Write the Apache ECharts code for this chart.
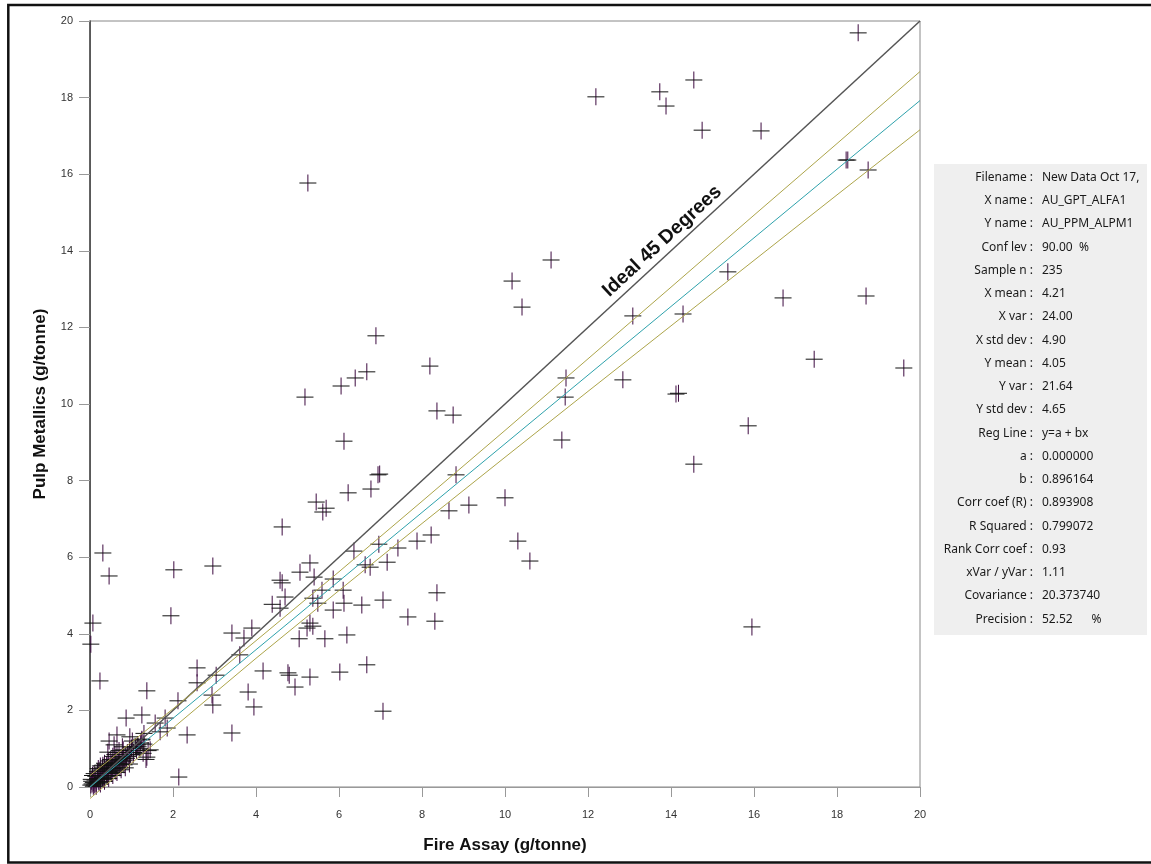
<!DOCTYPE html>
<html><head><meta charset="utf-8">
<script src="https://cdn.jsdelivr.net/npm/echarts/dist/echarts.min.js"></script>
<style>html,body{margin:0;padding:0;background:#fff}#c{width:1151px;height:864px}</style>
</head><body><div id="c"></div><script>
// ---- data ----
var fireAssay = [
 18.51,12.19,13.73,13.88,14.55,14.75,16.17,18.22,18.26,18.75,5.25,11.11,10.17,10.41,15.37,13.08,14.29,16.70,18.70,6.89,17.45,19.61,8.19,
 6.67,6.39,6.05,5.18,8.36,8.75,6.12,6.94,6.98,6.77,6.22,8.82,10.0,11.37,11.45,11.47,12.84,14.12,14.18,15.86,14.55,15.95,
 5.45,5.69,5.61,4.63,8.65,9.13,10.31,10.60,6.36,6.96,7.42,7.88,8.22,6.63,6.75,7.16,5.30,5.06,5.40,5.86,4.58,5.59,6.10,5.37,4.70,4.58,5.49,5.86,6.12,6.55,7.06,8.36,7.66,8.31,5.30,5.37,5.23,5.04,5.66,6.19,4.80,5.30,6.02,6.67,4.94,7.06,
 0.31,0.46,2.02,1.95,0.07,0.02,2.96,0.24,4.63,4.39,3.90,3.71,3.42,3.61,4.17,3.81,3.95,3.42,1.37,2.12,2.58,2.58,3.04,2.94,2.96,4.77,2.34,2.14,0.87,1.25,1.81,1.86,1.57,1.69,0.46,0.65,0.96,1.25,1.37,1.45,1.16,0.43,0.80,1.04,0.55,0.24,0.31,
 0.05,0.08,0.10,0.12,0.15,0.18,0.20,0.22,0.25,0.28,0.30,0.32,0.35,0.38,0.40,0.42,0.45,0.48,0.50,0.52,0.55,0.58,0.60,0.62,0.65,0.68,0.70,0.72,0.75,0.78,0.80,0.82,0.85,0.88,0.90,0.92,0.95,0.98,1.00,1.05,1.10,1.12,1.15,1.20,1.22,1.28,1.30,1.35,1.40,
 0.03,0.06,0.10,0.14,0.18,0.20,0.25,0.30,0.35,0.40,0.45,0.50,0.55,0.60,0.65,0.70,0.15,0.25,0.35,0.45,0.55,0.65,0.75,0.85,0.95,0.08,0.02,0.04,0.12,0.22,0.32,0.42,0.52,0.62,0.72,0.82,1.25,1.30,1.02,0.78,0.58
];
var pulpMetallics = [
 19.69,18.02,18.15,17.78,18.46,17.15,17.13,16.37,16.37,16.11,15.77,13.76,13.21,12.53,13.45,12.30,12.35,12.77,12.82,11.78,11.17,10.94,10.99,
 10.84,10.68,10.47,10.18,9.82,9.71,9.03,8.15,8.17,7.78,7.68,8.15,7.55,9.06,10.18,10.68,10.63,10.26,10.28,9.43,8.43,4.18,
 7.44,7.28,7.18,6.79,7.21,7.36,6.42,5.90,6.16,6.34,6.24,6.42,6.58,5.80,5.74,5.87,5.85,5.61,5.48,5.43,5.40,5.14,5.14,4.93,4.96,4.67,4.80,4.62,4.80,4.75,4.88,5.07,4.44,4.33,4.28,4.20,4.15,3.87,3.87,3.97,2.92,2.87,3.00,3.19,2.61,1.98,
 6.11,5.51,5.67,4.47,4.28,3.73,5.77,2.77,5.33,4.77,4.15,3.89,4.02,3.45,3.03,2.48,2.09,1.41,2.51,2.25,3.11,2.72,2.92,2.40,2.14,2.98,1.36,0.26,1.80,1.88,1.80,1.54,1.67,1.44,1.20,1.36,1.31,1.23,0.78,0.97,1.05,0.91,0.97,0.84,0.63,0.44,0.57,
 0.08,0.12,0.05,0.18,0.10,0.22,0.15,0.30,0.20,0.35,0.25,0.40,0.30,0.45,0.35,0.50,0.40,0.55,0.42,0.60,0.48,0.65,0.50,0.70,0.55,0.62,0.72,0.60,0.78,0.66,0.75,0.70,0.85,0.75,0.90,0.80,0.95,0.85,1.02,0.90,1.05,0.95,1.10,1.00,1.15,0.88,1.12,0.72,0.95,
 0.20,0.30,0.35,0.28,0.40,0.48,0.55,0.50,0.62,0.58,0.68,0.72,0.80,0.85,0.90,0.95,0.02,0.08,0.15,0.22,0.30,0.38,0.45,0.50,0.60,0.02,0.05,0.15,0.08,0.12,0.20,0.28,0.35,0.42,0.50,0.58,1.25,1.40,1.20,1.05,1.10
];
var axisTicks = [0,2,4,6,8,10,12,14,16,18,20];
var idealLine = [[0,0],[20,20]];
var regA = 0.0, regB = 0.896164;
var bandX     = [0, 2, 4, 6, 8, 10, 12, 14, 16, 18, 20];
var bandUpper = [0.30, 2.04, 3.82, 5.62, 7.46, 9.31, 11.18, 13.05, 14.93, 16.80, 18.68];
var bandLower = [-0.30, 1.54, 3.36, 5.13, 6.88, 8.61, 10.33, 12.04, 13.75, 15.46, 17.16];
var statLabels = ['Filename','X name','Y name','Conf lev','Sample n','X mean','X var','X std dev','Y mean','Y var','Y std dev','Reg Line','a','b','Corr coef (R)','R Squared','Rank Corr coef','xVar / yVar','Covariance','Precision'];
var statValues = ['New Data Oct 17,','AU_GPT_ALFA1','AU_PPM_ALPM1','90.00  %','235','4.21','24.00','4.90','4.05','21.64','4.65','y=a + bx','0.000000','0.896164','0.893908','0.799072','0.93','1.11','20.373740','52.52      %'];

var pts = fireAssay.map(function(x,i){return [x, pulpMetallics[i]];});
var regLine = [[0, regA], [20, regA + regB*20]];
var upper = bandX.map(function(x,i){return [x, bandUpper[i]];});
var lower = bandX.map(function(x,i){return [x, bandLower[i]];});

var FONT = 'Liberation Sans, Arial, sans-serif';
var chart = echarts.init(document.getElementById('c'), null, {renderer:'canvas'});

var panel = [{type:'rect', id:'panelbg', shape:{x:934, y:164, width:213, height:471}, style:{fill:'#efefef'}, z:0}];
statLabels.forEach(function(l,i){
  var y = 177.5 + i*23.25;
  panel.push({type:'text', x:1033, y:y, style:{text:l+' :', align:'right', verticalAlign:'middle', font:'12px "Noto Sans", sans-serif', fill:'#1a1a1a'}, z:1});
  panel.push({type:'text', x:1042, y:y, style:{text:statValues[i], align:'left', verticalAlign:'middle', font:'12px "Noto Sans", sans-serif', fill:'#1a1a1a'}, z:1});
});
panel.push({type:'rect', id:'frame', shape:{x:8.3, y:5, width:1170, height:857.5}, style:{fill:'none', stroke:'#111', lineWidth:2.5}, z:10});

chart.setOption({
  animation:false,
  backgroundColor:'#fff',
  grid:{left:90, top:21, right:231, bottom:77, show:true, borderColor:'#888', borderWidth:1},
  xAxis:{type:'value', min:0, max:20, interval:2,
    axisLine:{show:true, onZero:false, lineStyle:{color:'#999'}},
    axisTick:{show:true, length:10, lineStyle:{color:'#999'}},
    axisLabel:{color:'#333', fontSize:11, fontFamily:FONT, margin:22, formatter:function(v){return axisTicks.indexOf(v)>=0?String(v):'';}},
    splitLine:{show:false},
    name:'Fire Assay (g/tonne)', nameLocation:'middle', nameGap:50,
    nameTextStyle:{fontSize:17, fontWeight:'bold', color:'#111', fontFamily:FONT}},
  yAxis:[{type:'value', min:0, max:20, interval:2,
    axisLine:{show:true, onZero:false, lineStyle:{color:'#999'}},
    axisTick:{show:true, length:11, lineStyle:{color:'#999'}},
    axisLabel:{color:'#333', fontSize:11, fontFamily:FONT, margin:17},
    splitLine:{show:false},
    name:'Pulp Metallics (g/tonne)', nameLocation:'middle', nameGap:41,
    nameTextStyle:{fontSize:17, fontWeight:'bold', color:'#111', fontFamily:FONT}},
   {type:'value', min:0, max:20, position:'right', axisLine:{show:true, lineStyle:{color:'#444', width:1.5}}, axisTick:{show:false}, axisLabel:{show:false}, splitLine:{show:false}}],
  series:[
    {type:'scatter', data:pts, symbol:'rect', symbolSize:[1,17], itemStyle:{color:'#3d0a40', opacity:1}, z:3, silent:true},
    {type:'scatter', data:pts, symbol:'rect', symbolSize:[17,1], itemStyle:{color:'#111', opacity:1}, z:3, silent:true},
    {type:'line', data:idealLine, symbol:'none', clip:false, lineStyle:{color:'#555', width:1.5}, z:4, silent:true},
    {type:'line', data:upper, symbol:'none', clip:false, lineStyle:{color:'#ada54a', width:1}, z:4, silent:true},
    {type:'line', data:lower, symbol:'none', clip:false, lineStyle:{color:'#ada54a', width:1}, z:4, silent:true},
    {type:'line', data:regLine, symbol:'none', clip:false, lineStyle:{color:'#2ea2ac', width:1}, z:4, silent:true}
  ],
  graphic:panel
});

// label along the ideal line, placed through the chart's own scales
var p0 = chart.convertToPixel({gridIndex:0}, [0,0]);
var p1 = chart.convertToPixel({gridIndex:0}, [20,20]);
var pm = chart.convertToPixel({gridIndex:0}, [14,14]);
var dx = p1[0]-p0[0], dy = p1[1]-p0[1], len = Math.sqrt(dx*dx+dy*dy);
var ux = dx/len, uy = dy/len;
var off = 13;
var cx = pm[0] + off*uy, cy = pm[1] - off*ux;
var ang = Math.atan2(-dy, dx);
panel.push({type:'text', id:'ideal', x:cx, y:cy, rotation:ang, style:{text:'Ideal 45 Degrees', align:'center', verticalAlign:'middle', font:'bold 19.5px '+FONT, fill:'#111'}, z:5});
chart.setOption({graphic:panel});
</script></body></html>
